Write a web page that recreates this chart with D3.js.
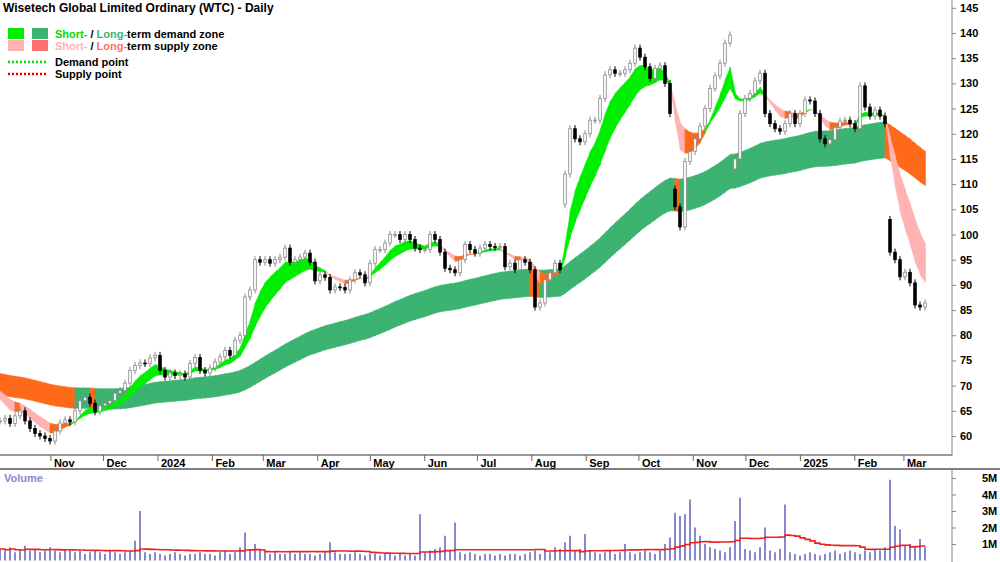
<!DOCTYPE html>
<meta charset="utf-8">
<title>WTC Daily</title>
<style>
body { margin: 0; background: #fff; font-family: "Liberation Sans", Arial, sans-serif; }
text { font-family: "Liberation Sans", Arial, sans-serif; }
.lbl { font-size: 11px; font-weight: bold; }
</style>
<body>
<script src="https://d3js.org/d3.v7.min.js"></script>
<script>

// closing prices, one candle per two sessions, Oct 2023 - Mar 2025
var closes = [
  63,63.5,62.5,64,65,63,61.5,60.5,60,59.5, 59,61,62.6,63.2,62.8,65,67,67.7,66.5,64.8,
  66,66.5,67,68.5,69,70.5,73,74,74.5,74.4, 75.5,76,73,71.7,72.5,72,72.3,71.7,74.4,75.6,
  73,72.5,73.5,74.7,75.7,77,76,79,80,87.6, 89,95,94.5,95,94.3,95,95.5,97.3,94.5,95,
  95.5,96.3,94.5,90.8,92,91.5,89,89.6,89.5,89, 91,92.4,92,90.4,94.3,97,97,98.3,100,100,
  99,100,99,97.3,97,97,100,99,96.5,93.3, 93,92.4,95,98,97,96.3,97.3,98,97.6,97.5,
  97.6,93.6,94.3,93,95,94.5,93,85.6,86.4,91, 92.4,94.3,93,112,121,119,118.4,120,122.7,122.7,
  127,131.7,132.7,132,132,132.7,134,137,135.2,133.3, 131,133,133.5,130,124,105.5,101.5,114.5,116.5,119,
  121.5,125,129,131.5,134,138,139.6,115,124,127, 128,130.5,132,124,122,121,120.5,122,124,122,
  124,126.7,126.5,124,119,118,118.8,121.3,122.5,122.7, 122,121,129.5,125.3,123.5,124.7,123.5,122,96.5,95,
  91.6,92.5,90.4,86,85.6,86.4
];

// opening prices of the sessions that gapped (index -> open)
var gapOpens = {113: 106, 135: 109, 147: 113, 178: 103};

// volume in millions, same sessions
var volumes = [
  .7,.6,.8,.5,.6,.9,.6,.7,.5,.6, .8,.6,.5,.7,.6,.5,.6,.4,.5,.6,
  .5,.4,.6,.5,.4,.5,.6,1.2,3.0,.5, .4,.5,.4,.3,.4,.5,.4,.3,.4,.4,
  .5,.4,.4,.3,.5,.6,.4,.5,.8,1.7, .7,1.0,.6,.5,.4,.5,.4,.4,.5,.4,
  .5,.4,.4,.3,.4,.5,1.1,.5,.4,.4, .4,.5,.4,.3,.4,.4,.3,.4,.4,.3,
  .4,.3,.4,.3,2.8,.5,.6,.7,.8,1.5, .6,2.3,.5,.4,.5,.4,.3,.4,.4,.3,
  .4,.3,.4,.4,.3,.4,.5,.6,.4,.6, .5,.8,.7,1.1,1.5,.6,.7,1.6,.6,.5,
  .4,.5,.6,.4,.5,1.0,.5,.4,.5,.6, .5,.4,.6,1.0,1.4,2.9,2.7,2.8,3.7,2.0,
  1.5,1.0,.8,.7,.6,.5,.8,2.4,3.8,.7, .6,.5,.8,2.0,.6,.5,.7,3.4,.5,.4,
  .3,.4,.5,.4,.3,.4,.5,.6,.4,.5, .6,.5,.4,.6,.5,.7,.6,.8,4.9,2.1,
  1.9,.9,1.0,.8,1.3,.8
];

var priceTicks = [60,65,70,75,80,85,90,95,100,105,110,115,120,125,130,135,140,145];
var volTicks = [1,2,3,4,5];
var startDate = new Date(2023, 9, 3), endDate = new Date(2025, 2, 13);
var shortSeed = [69, 70], longSeed = 70.5;

var W = 1000, H = 562, plotR = 952;

var svg = d3.select("body").append("svg").attr("width", W).attr("height", H);

var x = d3.scaleTime().domain([startDate, endDate]).range([0, 925]);
var step = (endDate - startDate) / (closes.length - 1);
var dates = closes.map(function(d, i) { return new Date(+startDate + i * step); });
var y = d3.scaleLinear().domain([60, 140]).range([436, 33]);
var yv = d3.scaleLinear().domain([0, 5]).range([560.5, 478]);

// indicators
function ema(arr, n, seed) {
  var k = 2 / (n + 1), e = seed, out = [];
  arr.forEach(function(v) { e = e + k * (v - e); out.push(e); });
  return out;
}
var fast = ema(closes, 6, shortSeed[0]), slow = ema(closes, 12, shortSeed[1]);
var lc = ema(closes, 72, longSeed);
var zones = closes.map(function(c, i) {
  return {d: dates[i], c: c, f: fast[i], s: slow[i], lu: lc[i] * 1.03, ll: lc[i] * 0.97};
});

svg.append("clipPath").attr("id", "pc").append("rect")
  .attr("x", 0).attr("y", 0).attr("width", plotR).attr("height", 454);
var g = svg.append("g").attr("clip-path", "url(#pc)");

// draw a band as a series of segment quads coloured per segment
function band(lo, hi, col) {
  for (var i = 1; i < zones.length; i++) {
    var a = zones[i - 1], b = zones[i];
    g.append("path")
      .attr("d", "M" + x(a.d) + "," + y(hi(a)) + "L" + (x(b.d) + 0.5) + "," + y(hi(b)) +
        "L" + (x(b.d) + 0.5) + "," + y(lo(b)) + "L" + x(a.d) + "," + y(lo(a)) + "Z")
      .attr("fill", col(b)).attr("stroke", col(b)).attr("stroke-width", 0.6);
  }
}
band(function(d) { return d.ll; }, function(d) { return d.lu; },
  function(d) { return d.c < d.ll ? "#ff6a1a" : "#3cb371"; });
band(function(d) { return Math.min(d.f, d.s); }, function(d) { return Math.max(d.f, d.s); },
  function(d) { return d.f >= d.s ? "#00ee00" : (d.c < d.f ? "#ffb3b3" : "#ff6a1a"); });

// candles
var cw = 2.6;
closes.forEach(function(c, i) {
  var o = gapOpens[i] !== undefined ? gapOpens[i] : (i ? closes[i - 1] : c);
  var cx = x(dates[i]);
  var hi = Math.max(o, c) + 0.7, lo = Math.min(o, c) - 0.7;
  var up = c >= o;
  g.append("line").attr("x1", cx).attr("x2", cx).attr("y1", y(hi)).attr("y2", y(lo))
    .attr("stroke", up ? "#888" : "#000").attr("stroke-width", 1);
  g.append("rect").attr("x", cx - cw / 2).attr("width", cw)
    .attr("y", y(Math.max(o, c))).attr("height", Math.max(1, Math.abs(y(o) - y(c))))
    .attr("fill", up ? "#fff" : "#000").attr("stroke", up ? "#888" : "#000").attr("stroke-width", 0.8);
});

// price axis
svg.append("line").attr("x1", plotR).attr("x2", plotR).attr("y1", 0).attr("y2", 456)
  .attr("stroke", "#888");
var pa = svg.append("g").attr("transform", "translate(" + plotR + ",0)")
  .call(d3.axisRight(y).tickValues(priceTicks).tickSize(4).tickFormat(d3.format("d")));
pa.select(".domain").remove();
pa.selectAll("text").attr("class", "lbl").attr("x", 8).attr("fill", "#000");
pa.selectAll("line").attr("stroke", "#888");

// date axis
svg.append("rect").attr("x", 0).attr("y", 454).attr("width", plotR).attr("height", 2).attr("fill", "#999");
var months = d3.timeMonth.range(new Date(2023, 10, 1), endDate);
var dg = svg.append("g");
months.forEach(function(m) {
  dg.append("line").attr("x1", x(m)).attr("x2", x(m)).attr("y1", 455).attr("y2", 461).attr("stroke", "#666");
  dg.append("text").attr("class", "lbl").attr("x", x(m) + 3).attr("y", 467)
    .text(m.getMonth() === 0 ? d3.timeFormat("%Y")(m) : d3.timeFormat("%b")(m));
});
svg.append("line").attr("x1", 0).attr("x2", W).attr("y1", 469).attr("y2", 469).attr("stroke", "#000");

// volume
var vg = svg.append("g");
volumes.forEach(function(v, i) {
  vg.append("line").attr("x1", x(dates[i])).attr("x2", x(dates[i]))
    .attr("y1", yv(0)).attr("y2", yv(v)).attr("stroke", "#8888cc").attr("stroke-width", 2);
});
var vavg = volumes.map(function(v, i) { return d3.mean(volumes.slice(Math.max(0, i - 24), i + 1)); });
vg.append("path").datum(vavg)
  .attr("d", d3.line().x(function(d, i) { return x(dates[i]); }).y(function(d) { return yv(d); }).curve(d3.curveStepAfter))
  .attr("fill", "none").attr("stroke", "#ee2222").attr("stroke-width", 1.6);
svg.append("line").attr("x1", plotR).attr("x2", plotR).attr("y1", 469).attr("y2", H).attr("stroke", "#888");
var va = svg.append("g").attr("transform", "translate(" + plotR + ",0)")
  .call(d3.axisRight(yv).tickValues(volTicks).tickSize(4).tickFormat(function(d) { return d + "M"; }));
va.select(".domain").remove();
va.selectAll("text").attr("class", "lbl").attr("x", 30);
va.selectAll("line").attr("stroke", "#888");
svg.append("text").attr("x", 4).attr("y", 482).attr("fill", "#8888cc")
  .attr("font-size", 11).attr("font-weight", "bold").text("Volume");

// title and legend
svg.append("text").attr("x", 3).attr("y", 12).attr("font-size", 12).attr("font-weight", "bold")
  .text("Wisetech Global Limited Ordinary (WTC) - Daily");
var lg = svg.append("g").attr("font-size", 11).attr("font-weight", "bold");
[["#00ee00", "#3cb371", "demand zone", "#00dd00", "#3cb371", 36],
 ["#ffb3b3", "#ff7070", "supply zone", "#ffb3b3", "#ff7070", 48]].forEach(function(r) {
  lg.append("rect").attr("x", 8).attr("y", r[5] - 8).attr("width", 16).attr("height", 11).attr("fill", r[0]);
  lg.append("rect").attr("x", 32).attr("y", r[5] - 8).attr("width", 16).attr("height", 11).attr("fill", r[1]);
  var t = lg.append("text").attr("x", 55).attr("y", r[5] + 2);
  t.append("tspan").attr("fill", r[3]).text("Short-");
  t.append("tspan").attr("fill", "#000").text(" / ");
  t.append("tspan").attr("fill", r[4]).text("Long-");
  t.append("tspan").attr("fill", "#000").text("term " + r[2]);
});
[["#00dd00", "Demand point", 62], ["#ee0000", "Supply point", 74]].forEach(function(r) {
  lg.append("line").attr("x1", 8).attr("x2", 48).attr("y1", r[2]).attr("y2", r[2])
    .attr("stroke", r[0]).attr("stroke-width", 2.5).attr("stroke-dasharray", "2,2");
  lg.append("text").attr("x", 55).attr("y", r[2] + 4).text(r[1]);
});

</script>
</body>
